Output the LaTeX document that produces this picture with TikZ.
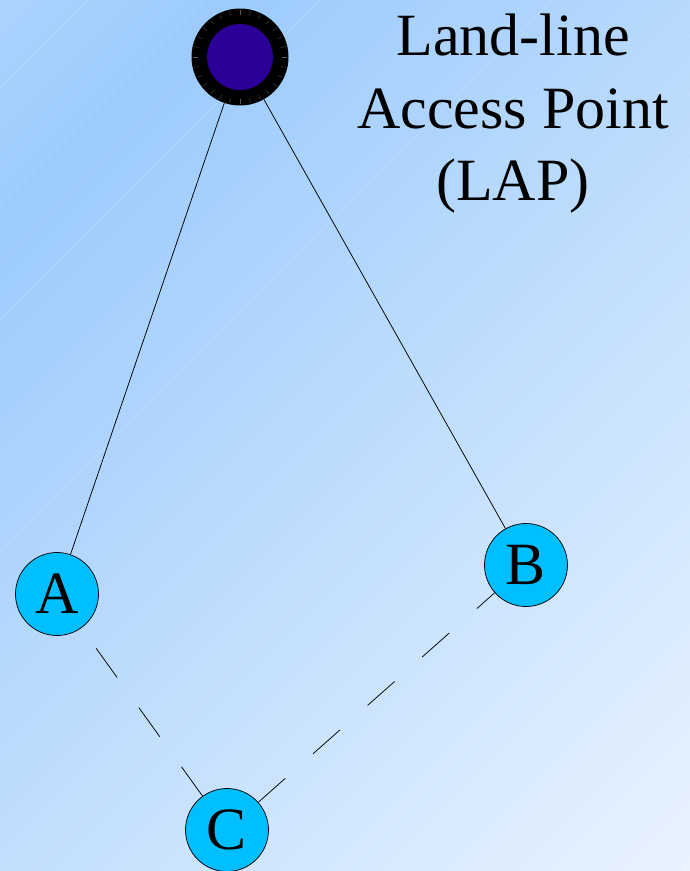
\documentclass[tikz,border=0pt]{standalone}
\usepackage{fontspec}
\setmainfont{Liberation Serif}
\definecolor{bgtop}{HTML}{AAD3FD}
\definecolor{bgdark}{HTML}{9CCBFC}
\definecolor{bglight}{HTML}{E9F3FF}
\definecolor{nodecyan}{HTML}{00BFFF}
\definecolor{lapblue}{RGB}{42,0,150}

\begin{document}
\begin{tikzpicture}[x=1pt,y=-1pt,
  bigtext/.style={font=\fontsize{60}{72.5}\selectfont},
  station/.style={circle,draw=black,line width=0.75pt,fill=nodecyan,
    minimum size=83pt,inner sep=0pt,font=\fontsize{60}{72}\selectfont},
  link/.style={draw=black,line width=0.75pt},
  wireless/.style={link,dash pattern=on 36pt off 37pt}]
\useasboundingbox (0,0) rectangle (690,871);

% diagonal gradient background, built from narrow bands
\begin{scope}
  \clip (0,0) rectangle (690,871);
  \foreach \s in {0,8,...,1560}{
    \ifdim\s pt<230pt\relax
      \pgfmathsetmacro{\p}{\s/2.3}
      \colorlet{band}{bgdark!\p!bgtop}
    \else
      \pgfmathsetmacro{\p}{(\s-230)/13.31}
      \colorlet{band}{bglight!\p!bgdark}
    \fi
    \fill[band] (\s+1000,-1000) -- (\s+1009,-1000) -- (\s-1991,2000) -- (\s-2000,2000) -- cycle;
  }
  \foreach \s in {30,88,...,1560}{
    \draw[white,opacity=0.18,line width=0.5pt] (\s+1000,-1000) -- (\s-2000,2000);
  }
\end{scope}

% land-line access point: black ring with faint radial seams round a dark blue disc
\node[circle,fill=black,minimum size=97pt,inner sep=0pt] (lap) at (240,57) {};
\fill[lapblue] (lap.center) circle (33pt);
\foreach \k in {0,...,27}{
  \draw[black!65,line width=0.3pt]
    ([shift={(\k*360/28:42pt)}]lap.center) -- ([shift={(\k*360/28:47pt)}]lap.center);
}

\node[bigtext,align=center,anchor=north,inner sep=0pt] (label) at (513,14)
  {Land-line\\Access Point\\(LAP)};

% mobile stations
\node[station] (A) at (57,594) {A};
\node[station] (B) at (526,565) {B};
\node[station] (C) at (227,830) {C};

% links
\draw[link] (lap) -- (A);
\draw[link] (lap) -- (B);
\draw[wireless] (C) -- (A);
\draw[wireless] (C) -- (B);
\end{tikzpicture}
\end{document}
